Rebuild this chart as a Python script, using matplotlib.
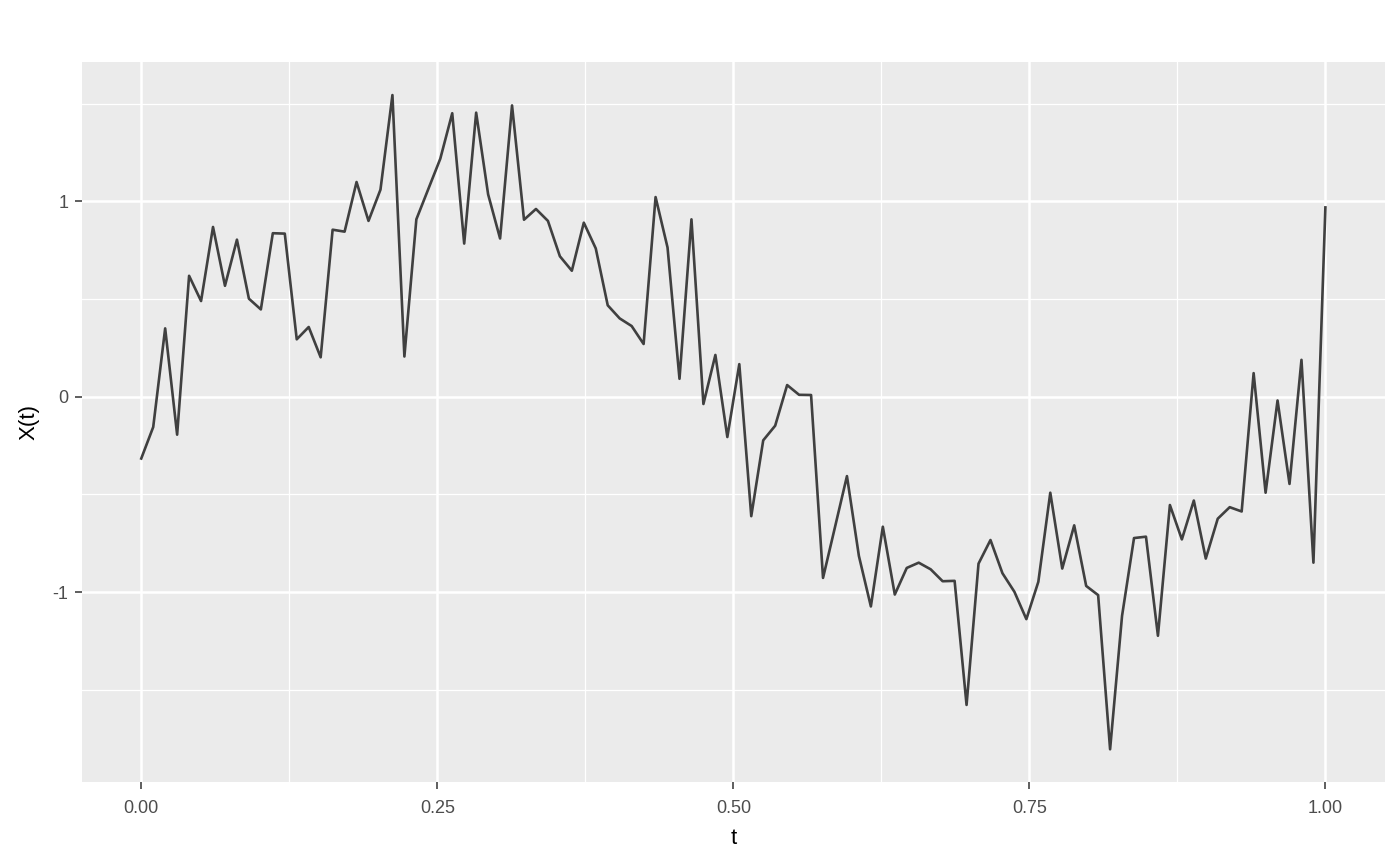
import numpy as np
import matplotlib
matplotlib.use("Agg")
import matplotlib.pyplot as plt

# 100 gelijk verdeelde tijdstippen op [0, 1]
t = np.linspace(0, 1, 100)

# waarden
x_t = [
    -0.316, -0.155, 0.350, -0.194, 0.619, 0.490, 0.869, 0.568, 0.804, 0.502,
    0.447, 0.837, 0.835, 0.294, 0.357, 0.202, 0.855, 0.845, 1.099, 0.900,
    1.060, 1.544, 0.206, 0.908, 1.063, 1.218, 1.451, 0.784, 1.454, 1.036,
    0.810, 1.491, 0.906, 0.961, 0.900, 0.719, 0.645, 0.891, 0.759, 0.468,
    0.401, 0.362, 0.270, 1.022, 0.764, 0.092, 0.908, -0.037, 0.214, -0.206,
    0.167, -0.611, -0.223, -0.148, 0.060, 0.010, 0.009, -0.927, -0.667, -0.406,
    -0.815, -1.073, -0.665, -1.012, -0.876, -0.849, -0.883, -0.944, -0.942, -1.577,
    -0.854, -0.733, -0.903, -0.998, -1.138, -0.947, -0.491, -0.879, -0.658, -0.968,
    -1.015, -1.804, -1.121, -0.723, -0.716, -1.223, -0.554, -0.730, -0.531, -0.828,
    -0.624, -0.565, -0.587, 0.121, -0.491, -0.019, -0.446, 0.189, -0.849, 0.969,
]

x_ticks = [0.0, 0.25, 0.5, 0.75, 1.0]
x_ticklabels = ["0.00", "0.25", "0.50", "0.75", "1.00"]
y_ticks = [-1, 0, 1]
y_ticklabels = ["-1", "0", "1"]

plt.rcParams['font.family'] = ['Liberation Sans', 'DejaVu Sans']

fig = plt.figure(figsize=(14, 8.66), dpi=100)
ax = fig.add_axes([0.0586, 0.097, 0.9304, 0.831])
ax.set_facecolor('#EBEBEB')

# ggplot-achtige grid (major + minor)
for v in [0.125, 0.375, 0.625, 0.875]:
    ax.axvline(v, color='white', linewidth=0.9, zorder=0)
for v in [-1.5, -0.5, 0.5, 1.5]:
    ax.axhline(v, color='white', linewidth=0.9, zorder=0)
for v in x_ticks:
    ax.axvline(v, color='white', linewidth=1.8, zorder=0)
for v in y_ticks:
    ax.axhline(v, color='white', linewidth=1.8, zorder=0)

ax.plot(t, x_t, color='#404040', linewidth=1.9, zorder=2)

# 5% uitbreiding zoals ggplot
yr = max(x_t) - min(x_t)
ax.set_xlim(-0.05, 1.05)
ax.set_ylim(min(x_t) - 0.05 * yr, max(x_t) + 0.05 * yr)

ax.set_xticks(x_ticks)
ax.set_xticklabels(x_ticklabels)
ax.set_yticks(y_ticks)
ax.set_yticklabels(y_ticklabels)
ax.tick_params(axis='both', colors='#333333', length=5, width=1.1,
               labelsize=13, labelcolor='#4D4D4D', pad=5)
ax.tick_params(axis='x', pad=8)

for s in ax.spines.values():
    s.set_visible(False)

ax.set_xlabel("t", fontsize=16, color='black', labelpad=8)
ax.set_ylabel("X(t)", fontsize=16, color='black', labelpad=9)

fig.savefig("out.png", dpi=100)
